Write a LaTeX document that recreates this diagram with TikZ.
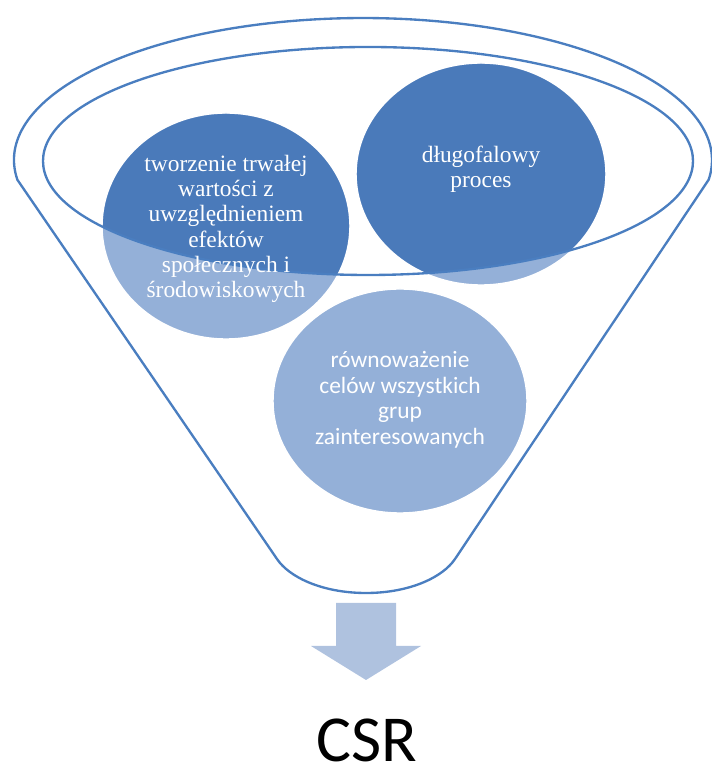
\documentclass[tikz,border=0pt]{standalone}
\usepackage{fontspec}
\newfontfamily\circleserif{Liberation Serif}
\newfontfamily\circlesans{Carlito}

\definecolor{funnelline}{RGB}{74,126,192}
\definecolor{circledark}{RGB}{74,122,186}
\definecolor{circlelight}{RGB}{148,176,216}
\definecolor{arrowfill}{RGB}{175,194,223}

\tikzset{
  rim/.style={funnelline, line width=2pt},
  bubble/.style={fill=circlelight, draw=white, line width=1.2pt},
  darktext/.style={text=white, align=center, font=\circleserif\fontsize{20}{21.5}\selectfont},
  lighttext/.style={text=white, align=center, font=\circlesans\fontsize{20}{21.8}\selectfont}
}

\begin{document}
\begin{tikzpicture}[x=0.03cm, y=0.03cm]
  \useasboundingbox (0,0) rectangle (712,767);
  % circle centres
  \coordinate (value) at (226,541);
  \coordinate (longterm) at (481,593);
  \coordinate (balance) at (400,366);
  % funnel body: top rim arc, straight sides, rounded spout
  \draw[rim] (17.4,587.2) arc[start angle=188, end angle=-8, x radius=349, y radius=142]
    -- (455,208) .. controls (443,190) and (410,174) .. (366,174)
    .. controls (322,174) and (289,190) .. (277,208) -- cycle;
  % circles, light below the rim
  \filldraw[bubble] (value) ellipse[x radius=124, y radius=113];
  \filldraw[bubble] (longterm) ellipse[x radius=125, y radius=111];
  \filldraw[bubble] (balance) ellipse[x radius=127, y radius=112];
  % darker inside the rim
  \begin{scope}
    \clip (368,606) ellipse[x radius=325, y radius=114];
    \fill[circledark] (value) ellipse[x radius=123, y radius=112];
    \fill[circledark] (longterm) ellipse[x radius=124, y radius=110];
  \end{scope}
  % inner rim
  \draw[rim] (368,606) ellipse[x radius=325, y radius=114];
  % labels
  \node[darktext] (valuetext) at (226,538) {tworzenie trwałej\\wartości z\\uwzględnieniem\\efektów\\społecznych i\\środowiskowych};
  \node[darktext] (longtermtext) at (481,598) {długofalowy\\proces};
  \node[lighttext] (balancetext) at (400,367) {równoważenie\\celów wszystkich\\grup\\zainteresowanych};
  % block arrow and result
  \fill[arrowfill] (336,164) -- (396,164) -- (396,121) -- (421,121) -- (366,87)
    -- (311,121) -- (336,121) -- cycle;
  \node[anchor=base, inner sep=0pt, text depth=0pt, font=\circlesans\fontsize{56}{60}\selectfont] (csr) at (367,6) {CSR};
\end{tikzpicture}
\end{document}
